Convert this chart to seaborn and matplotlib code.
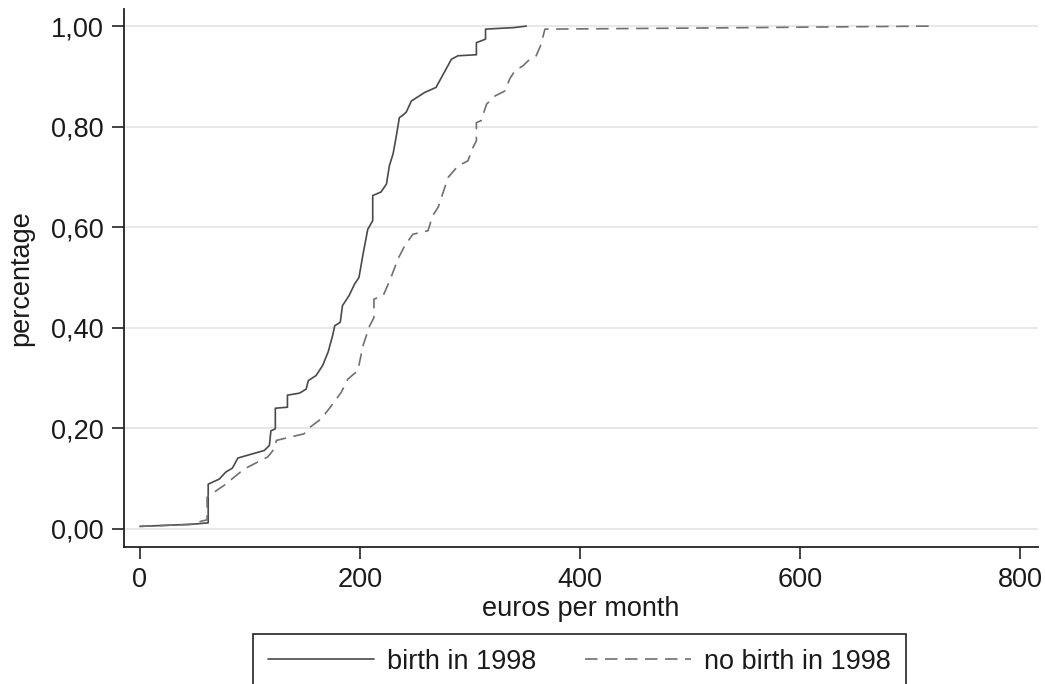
import matplotlib
matplotlib.use("Agg")
import matplotlib.pyplot as plt
import matplotlib.ticker as mticker
import numpy as np
import pandas as pd
import seaborn as sns

# ---- data ----
birth_x = [0, 46, 62, 62, 72, 78, 84, 89, 113, 117.6, 119, 123, 123, 134, 134, 145,
           151, 153, 160, 166, 171, 175, 177, 182, 184, 190, 195, 199, 203, 207,
           211.5, 211.5, 219, 224, 226.6, 230, 233, 235.7, 239, 242, 246.6, 258.7,
           269, 274, 278, 283, 289, 305.7, 305.7, 314, 314, 340, 351]
birth_y = [0.005, 0.009, 0.012, 0.089, 0.099, 0.113, 0.121, 0.141, 0.156, 0.166,
           0.195, 0.199, 0.240, 0.242, 0.266, 0.270, 0.278, 0.295, 0.305, 0.325,
           0.352, 0.384, 0.404, 0.411, 0.444, 0.464, 0.487, 0.500, 0.550, 0.596,
           0.613, 0.663, 0.670, 0.686, 0.722, 0.746, 0.782, 0.818, 0.823, 0.829,
           0.851, 0.868, 0.878, 0.898, 0.914, 0.934, 0.941, 0.943, 0.967, 0.974,
           0.994, 0.997, 1.000]

nobirth_x = [0, 46, 57, 61, 61, 72, 78, 85.6, 94.6, 107, 116, 122, 124, 137, 149,
             152.6, 164.7, 174, 183, 189, 198, 202.6, 208.7, 212.6, 212.6, 221, 227,
             234.5, 240.5, 248, 261.7, 266, 271, 275, 280, 289, 298, 302.7, 305.7,
             305.7, 310, 315, 322.6, 331.6, 336, 340.6, 348, 352.7, 360, 364, 368,
             500, 720]
nobirth_y = [0.005, 0.009, 0.016, 0.018, 0.063, 0.080, 0.089, 0.103, 0.119, 0.133,
             0.143, 0.159, 0.176, 0.183, 0.189, 0.199, 0.219, 0.245, 0.272, 0.298,
             0.315, 0.364, 0.404, 0.420, 0.457, 0.464, 0.494, 0.537, 0.563, 0.586,
             0.593, 0.623, 0.640, 0.666, 0.699, 0.722, 0.732, 0.759, 0.772, 0.808,
             0.812, 0.845, 0.861, 0.871, 0.895, 0.911, 0.921, 0.931, 0.941, 0.961,
             0.994, 0.996, 1.000]

group_labels = ["birth in 1998", "no birth in 1998"]
x_ticks = [0, 200, 400, 600, 800]
y_ticks = [0.0, 0.2, 0.4, 0.6, 0.8, 1.0]
x_label = "euros per month"
y_label = "percentage"

df = pd.concat([
    pd.DataFrame({"x": birth_x, "y": birth_y, "group": group_labels[0]}),
    pd.DataFrame({"x": nobirth_x, "y": nobirth_y, "group": group_labels[1]}),
], ignore_index=True)

# ---- style ----
sns.set_theme(style="white")
plt.rcParams["font.family"] = ["Liberation Sans", "DejaVu Sans"]
FS = 19.5

fig = plt.figure(figsize=(10.45, 6.84), dpi=100)
ax = fig.add_axes([124 / 1045, 1 - 547 / 684, (1038 - 124) / 1045, (547 - 9) / 684])

palette = {group_labels[0]: "#4a4a4a", group_labels[1]: "#707070"}
dashes = {group_labels[0]: "", group_labels[1]: (7.5, 4.5)}

sns.lineplot(data=df, x="x", y="y", hue="group", style="group",
             palette=palette, dashes=dashes, estimator=None, sort=False,
             linewidth=1.2, legend=False, ax=ax)

ax.set_xlim(-14.5, 816)
ax.set_ylim(-0.036, 1.034)
ax.set_xticks(x_ticks)
ax.set_yticks(y_ticks)
ax.yaxis.set_major_formatter(mticker.FuncFormatter(lambda v, p: f"{v:.2f}".replace(".", ",")))
ax.xaxis.set_major_formatter(mticker.FuncFormatter(lambda v, p: f"{v:.0f}"))

ax.grid(axis="y", color="#e6e6e6", linewidth=1.3)
ax.grid(axis="x", visible=False)
ax.set_axisbelow(True)

for s in ["top", "right"]:
    ax.spines[s].set_visible(False)
for s in ["left", "bottom"]:
    ax.spines[s].set_color("#222222")
    ax.spines[s].set_linewidth(1.3)

ax.tick_params(axis="both", which="major", direction="out", length=8.5, width=1.2,
               color="#222222", labelsize=FS, labelcolor="#1a1a1a", pad=6,
               left=True, bottom=True)

ax.set_xlabel(x_label, fontsize=FS, color="#1a1a1a", labelpad=2)
ax.set_ylabel(y_label, fontsize=FS, color="#1a1a1a", labelpad=12)

# legend (box partially cut off at the bottom like the reference)
handles = ax.get_lines()[:2]
leg = fig.legend(handles, group_labels, loc="upper left",
                 bbox_to_anchor=(253 / 1045, 1 - 634 / 684), borderaxespad=0,
                 ncol=2, fontsize=FS, frameon=True, fancybox=False,
                 handlelength=3.9, handletextpad=0.5, columnspacing=1.8,
                 borderpad=0.55, labelcolor="#1a1a1a")
leg.get_frame().set_edgecolor("#222222")
leg.get_frame().set_linewidth(1.2)
leg.get_frame().set_alpha(1)

fig.savefig("out.png", dpi=100)
